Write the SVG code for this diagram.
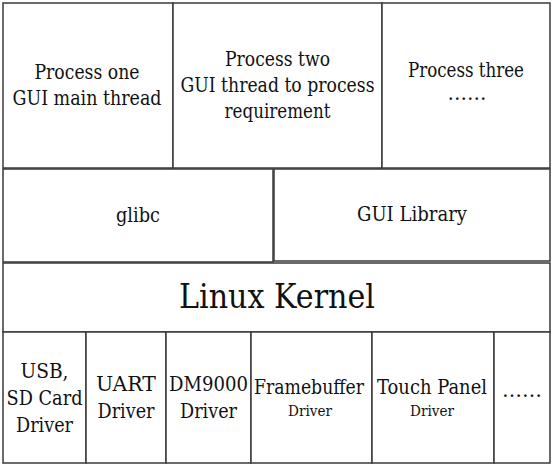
<svg xmlns="http://www.w3.org/2000/svg" width="554" height="466" viewBox="0 0 554 466">
<style>
rect{fill:#fff;stroke:#3a3a3a;stroke-width:1.5}
text{font-family:'DejaVu Serif',serif;font-size:20px;fill:#111;text-anchor:middle}
.big{font-size:34px}
.sm{font-size:14.5px}
</style>
<rect x="0" y="0" width="554" height="466" style="fill:#fff;stroke:none"/>
<g id="process-one"><rect x="3" y="3" width="170" height="165"/><text x="87" y="79" textLength="105" lengthAdjust="spacingAndGlyphs">Process one</text><text x="87" y="105" textLength="149" lengthAdjust="spacingAndGlyphs">GUI main thread</text></g>
<g id="process-two"><rect x="173" y="3" width="209" height="165"/><text x="277.5" y="66" textLength="105" lengthAdjust="spacingAndGlyphs">Process two</text><text x="277.5" y="92" textLength="194" lengthAdjust="spacingAndGlyphs">GUI thread to process</text><text x="277.5" y="118" textLength="106" lengthAdjust="spacingAndGlyphs">requirement</text></g>
<g id="process-three"><rect x="382" y="3" width="168" height="165"/><text x="466" y="77" textLength="116" lengthAdjust="spacingAndGlyphs">Process three</text><text x="467" y="100" textLength="39" lengthAdjust="spacingAndGlyphs">……</text></g>
<g id="glibc"><rect x="3" y="169" width="270" height="93"/><text x="138" y="222" textLength="44" lengthAdjust="spacingAndGlyphs">glibc</text></g>
<g id="gui-library"><rect x="274" y="169" width="276" height="92"/><text x="412" y="221" textLength="110" lengthAdjust="spacingAndGlyphs">GUI Library</text></g>
<g id="linux-kernel"><rect x="3" y="263" width="547" height="69"/><text class="big" x="277" y="308" textLength="196" lengthAdjust="spacingAndGlyphs">Linux Kernel</text></g>
<g id="usb-sd-driver"><rect x="3" y="332" width="83" height="131"/><text x="44.5" y="378" textLength="48" lengthAdjust="spacingAndGlyphs">USB,</text><text x="44.5" y="405" textLength="76" lengthAdjust="spacingAndGlyphs">SD Card</text><text x="44.5" y="432" textLength="57" lengthAdjust="spacingAndGlyphs">Driver</text></g>
<g id="uart-driver"><rect x="86" y="332" width="80" height="131"/><text x="126" y="391" textLength="60" lengthAdjust="spacingAndGlyphs">UART</text><text x="126" y="418" textLength="57" lengthAdjust="spacingAndGlyphs">Driver</text></g>
<g id="dm9000-driver"><rect x="166" y="332" width="85" height="131"/><text x="208.5" y="391" textLength="79" lengthAdjust="spacingAndGlyphs">DM9000</text><text x="208.5" y="418" textLength="57" lengthAdjust="spacingAndGlyphs">Driver</text></g>
<g id="framebuffer-driver"><rect x="251" y="332" width="121" height="131"/><text x="309" y="394" textLength="110" lengthAdjust="spacingAndGlyphs">Framebuffer</text><text class="sm" x="310" y="416" textLength="44" lengthAdjust="spacingAndGlyphs">Driver</text></g>
<g id="touch-panel-driver"><rect x="372" y="332" width="122" height="131"/><text x="432" y="394" textLength="110" lengthAdjust="spacingAndGlyphs">Touch Panel</text><text class="sm" x="432" y="416" textLength="44" lengthAdjust="spacingAndGlyphs">Driver</text></g>
<g id="more-drivers"><rect x="494" y="332" width="56" height="131"/><text x="522" y="397" textLength="40" lengthAdjust="spacingAndGlyphs">……</text></g>
<g id="connectors"></g>
</svg>
